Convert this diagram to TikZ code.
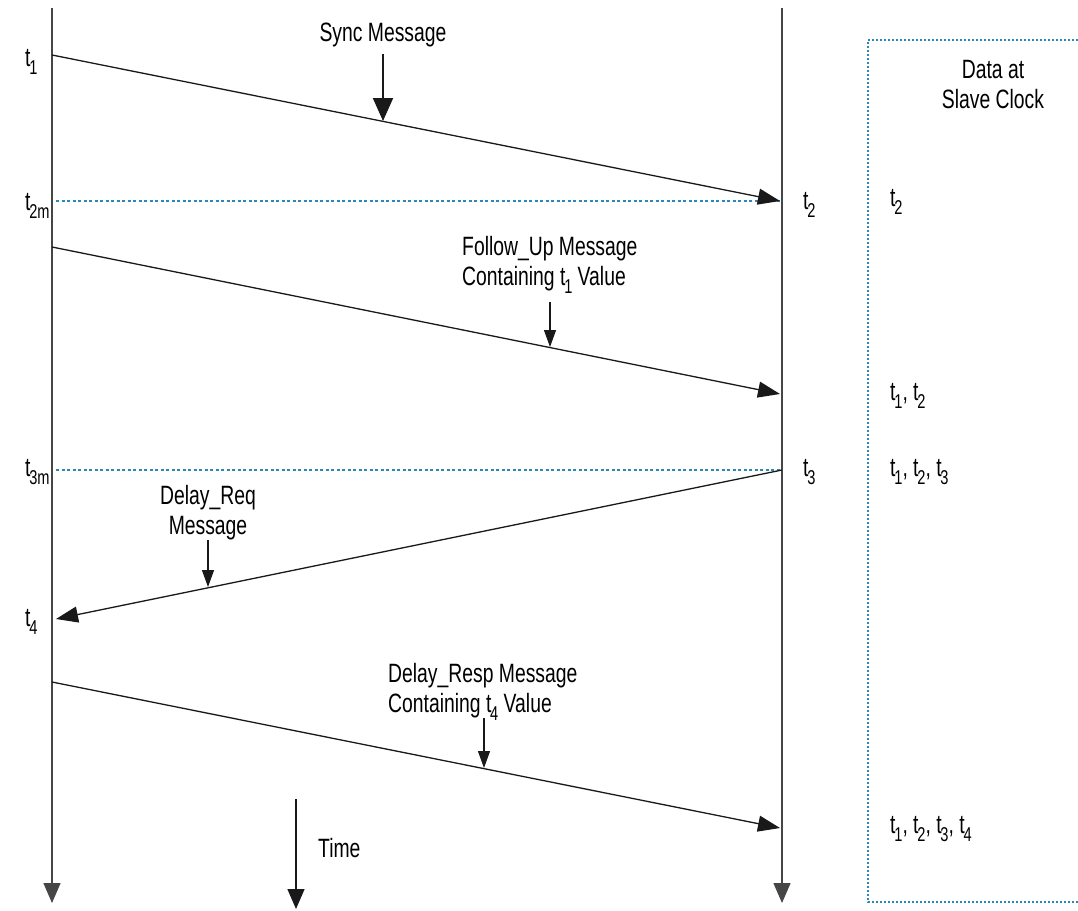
\documentclass[tikz,border=0pt]{standalone}
\usepackage{fontspec}
\setmainfont{Liberation Sans}[FakeStretch=0.73]
\usetikzlibrary{arrows.meta}
\definecolor{dashblue}{RGB}{45,135,185}
\definecolor{lifeline}{RGB}{70,70,70}
\newcommand\tsub[1]{t\kern-1.2pt\raisebox{-0.55ex}{\fontsize{20}{20}\selectfont #1}}
\begin{document}
\begin{tikzpicture}[x=1pt,y=-1pt,
  txt/.style={font=\fontsize{26.5}{30}\selectfont, inner sep=0pt},
  life/.style={draw=lifeline, line width=1.4pt, -{Triangle[length=20pt,width=17pt]}},
  msg/.style={draw=black!90, line width=1.3pt, -{Triangle[length=22pt,width=16pt]}},
  note/.style={draw=black!90, line width=1.2pt, -{Triangle[length=17pt,width=12pt]}},
  bignote/.style={draw=black!90, line width=2pt, -{Triangle[length=23pt,width=20pt]}},
  tmark/.style={draw=dashblue, line width=1.2pt, dash pattern=on 3pt off 2.5pt},
  boxline/.style={draw=dashblue, line width=1.2pt, dash pattern=on 2pt off 2pt}
]
\useasboundingbox (0,0) rectangle (1078,910);
% lifelines
\coordinate (Ltop) at (52,8);  \coordinate (Lbot) at (52,903);
\coordinate (Rtop) at (782,8); \coordinate (Rbot) at (782,903);
\draw[life] (Ltop) -- (Lbot);
\draw[life] (Rtop) -- (Rbot);
% time arrow
\coordinate (Ttop) at (296,799); \coordinate (Tbot) at (296,909);
\draw[life,draw=black!90] (Ttop) -- (Tbot);
\node[txt, anchor=west] (time) at (318,848) {Time};
% endpoints
\coordinate (s1) at (52,55);   \coordinate (s2) at (780,201);
\coordinate (f1) at (52,247);  \coordinate (f2) at (780,394);
\coordinate (d1) at (782,470); \coordinate (d2) at (56,619);
\coordinate (r1) at (52,682);  \coordinate (r2) at (780,828);
% dashed markers
\coordinate (m2a) at (56,201); \coordinate (m2b) at (782,201);
\coordinate (m3a) at (56,470); \coordinate (m3b) at (782,470);
\draw[tmark] (m2a) -- (m2b);
\draw[tmark] (m3a) -- (m3b);
% messages
\draw[msg] (s1) -- (s2);
\draw[msg] (f1) -- (f2);
\draw[msg] (d1) -- (d2);
\draw[msg] (r1) -- (r2);
% message labels and pointers
\node[txt] (sync) at (383,35) {Sync Message};
\coordinate (sa) at (383,54); \coordinate (sb) at (383,121);
\draw[bignote] (sa) -- (sb);
\node[txt, anchor=west, align=left] (fu) at (462,265) {Follow\_Up Message\\Containing \tsub{1} Value};
\coordinate (fa) at (550,302); \coordinate (fb) at (550,347);
\draw[note] (fa) -- (fb);
\node[txt, align=center] (dq) at (208,513) {Delay\_Req\\Message};
\coordinate (qa) at (208,540); \coordinate (qb) at (208,587);
\draw[note] (qa) -- (qb);
\node[txt, anchor=west, align=left] (dr) at (388,692) {Delay\_Resp Message\\Containing \tsub{4} Value};
\coordinate (ra) at (484,718); \coordinate (rb) at (484,768);
\draw[note] (ra) -- (rb);
% time stamps, master side
\node[txt, anchor=west] (lt1) at (25,62) {\tsub{1}};
\node[txt, anchor=west] (lt2m) at (25,206) {\tsub{2m}};
\node[txt, anchor=west] (lt3m) at (25,472) {\tsub{3m}};
\node[txt, anchor=west] (lt4) at (25,622) {\tsub{4}};
% time stamps, slave side
\node[txt, anchor=west] (rt2) at (803,205) {\tsub{2}};
\node[txt, anchor=west] (rt3) at (803,472) {\tsub{3}};
% data box
\coordinate (b1) at (1090,40); \coordinate (b2) at (868,40);
\coordinate (b3) at (868,902); \coordinate (b4) at (1090,902);
\draw[boxline] (b1) -- (b2) -- (b3) -- (b4);
\node[txt, align=center] (data) at (993,85) {Data at\\Slave Clock};
\node[txt, anchor=west] (dv1) at (890,202) {\tsub{2}};
\node[txt, anchor=west] (dv2) at (890,396) {\tsub{1}, \tsub{2}};
\node[txt, anchor=west] (dv3) at (890,472) {\tsub{1}, \tsub{2}, \tsub{3}};
\node[txt, anchor=west] (dv4) at (890,829) {\tsub{1}, \tsub{2}, \tsub{3}, \tsub{4}};
\end{tikzpicture}
\end{document}
